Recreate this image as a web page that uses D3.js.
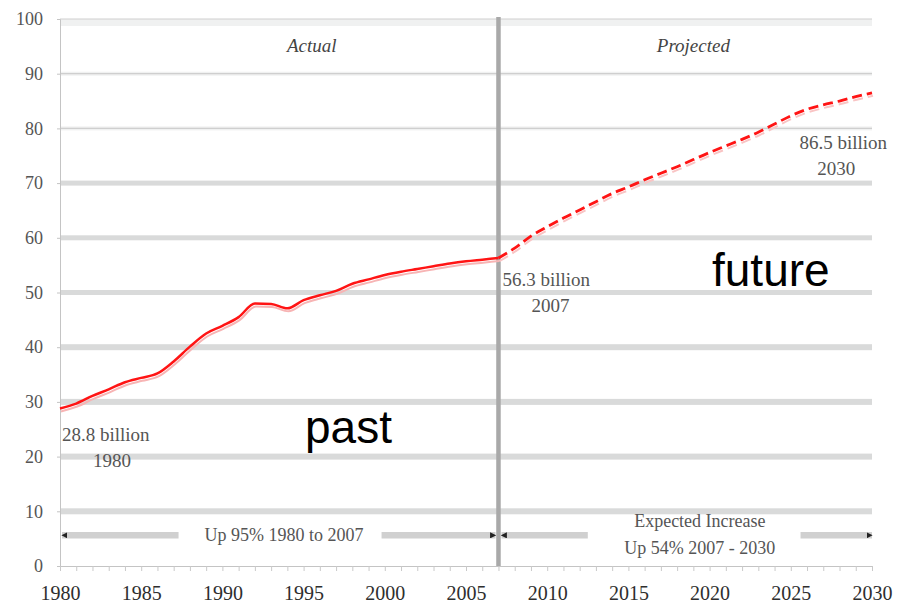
<!DOCTYPE html>
<html>
<head>
<meta charset="utf-8">
<script src="https://cdn.jsdelivr.net/npm/d3@7"></script>
<style>
  body { margin: 0; background: #fff; }
  svg { display: block; }
</style>
</head>
<body>
<div id="chart"></div>
<script>

// data (billions)
const actualYears = [1980, 1981, 1982, 1983, 1984, 1985, 1986, 1987, 1988, 1989,
                     1990, 1991, 1992, 1993, 1994, 1995, 1996, 1997, 1998, 1999,
                     2000, 2001, 2002, 2003, 2004, 2005, 2006, 2007];
const actualValues = [28.8, 29.7, 31.1, 32.3, 33.6, 34.4, 35.2, 37.4, 40.1, 42.5,
                      43.9, 45.5, 48.0, 47.9, 47.1, 48.6, 49.5, 50.3, 51.6, 52.4,
                      53.2, 53.8, 54.3, 54.8, 55.3, 55.7, 56.0, 56.3];

const projectedYears = [2007, 2008, 2009, 2010, 2011, 2012, 2013, 2014, 2015, 2016,
                        2017, 2018, 2019, 2020, 2021, 2022, 2023, 2024, 2025, 2026,
                        2027, 2028, 2029, 2030];
const projectedValues = [56.3, 58.1, 60.3, 62.0, 63.6, 65.1, 66.6, 68.1, 69.3, 70.6,
                         71.8, 73.0, 74.3, 75.6, 76.8, 78.0, 79.3, 80.8, 82.3, 83.5,
                         84.3, 85.0, 85.8, 86.5];

const yTicks = [0, 10, 20, 30, 40, 50, 60, 70, 80, 90, 100];
const xTickLabels = [1980, 1985, 1990, 1995, 2000, 2005, 2010, 2015, 2020, 2025, 2030];
const splitYear = 2007;

const startLabel = ["28.8 billion", "1980"];
const splitLabel = ["56.3 billion", "2007"];
const endLabel = ["86.5 billion", "2030"];
const pastIncrease = ["Up 95% 1980 to 2007"];
const futureIncrease = ["Expected Increase", "Up 54% 2007 - 2030"];

let dimensions = {
    width: 897,
    height: 610,
    margin: {
        top: 19,
        right: 25,
        bottom: 44,
        left: 60,
    },
};
dimensions.boundedWidth =
    dimensions.width - dimensions.margin.left - dimensions.margin.right;
dimensions.boundedHeight =
    dimensions.height - dimensions.margin.top - dimensions.margin.bottom;

const serif = "'Liberation Serif', 'Times New Roman', serif";

const wrapper = d3.select("#chart")
    .append("svg")
    .attr("width", dimensions.width)
    .attr("height", dimensions.height);

const bounds = wrapper.append("g")
    .attr("transform", `translate(${dimensions.margin.left},${dimensions.margin.top})`);

const x = d3.scaleLinear()
    .domain([1980, 2030])
    .range([0, dimensions.boundedWidth]);
const y = d3.scaleLinear()
    .domain([0, 100])
    .range([dimensions.boundedHeight, 0]);

// grid bands

const bandWidth = (v) => v === 0 ? 0 : v <= 40 ? 6 : v <= 70 ? 5 : v === 100 ? 7 : 4;
const bandColor = (v) => v <= 70 ? "#d9dada" : "#f0f1f1";

bounds.append("g")
    .selectAll("rect")
    .data(yTicks)
    .join("rect")
    .attr("x", 0)
    .attr("y", (d) => y(d) - (d === 100 ? 0 : bandWidth(d) / 2))
    .attr("width", dimensions.boundedWidth)
    .attr("height", (d) => bandWidth(d))
    .attr("fill", (d) => bandColor(d));

bounds.append("g")
    .selectAll("line")
    .data(yTicks.filter((d) => d >= 80))
    .join("line")
    .attr("x1", 0)
    .attr("x2", dimensions.boundedWidth)
    .attr("y1", (d) => y(d))
    .attr("y2", (d) => y(d))
    .attr("stroke", "#cfcfcf")
    .attr("stroke-width", 1.2);

// axes

const yAxisGenerator = d3.axisLeft(y)
    .tickValues(yTicks)
    .tickSize(3)
    .tickPadding(14)
    .tickFormat(d3.format("d"));
const yAxis = bounds.append("g").call(yAxisGenerator);
yAxis.select(".domain").attr("stroke", "#c4c4c4");
yAxis.selectAll(".tick line").attr("stroke", "#c4c4c4");
yAxis.selectAll("text")
    .attr("font-family", serif)
    .attr("font-size", 18)
    .attr("fill", "#555");

const xAxisGenerator = d3.axisBottom(x)
    .tickValues(d3.range(1980, 2031))
    .tickSize(5)
    .tickSizeOuter(0)
    .tickPadding(15)
    .tickFormat((d) => xTickLabels.includes(d) ? d : "");
const xAxis = bounds.append("g")
    .attr("transform", `translate(0,${dimensions.boundedHeight})`)
    .call(xAxisGenerator);
xAxis.select(".domain").attr("stroke", "#c4c4c4");
xAxis.selectAll(".tick line").attr("stroke", "#c9c9c9");
xAxis.selectAll("text")
    .attr("font-family", serif)
    .attr("font-size", 20)
    .attr("fill", "#2e2e2e");

// divider at 2007

bounds.append("line")
    .attr("x1", x(splitYear))
    .attr("x2", x(splitYear))
    .attr("y1", -2)
    .attr("y2", dimensions.boundedHeight)
    .attr("stroke", "#a9a9a9")
    .attr("stroke-width", 4.5);

// period labels

bounds.append("text")
    .attr("x", x(1995.5))
    .attr("y", 33)
    .attr("text-anchor", "middle")
    .attr("font-family", serif)
    .attr("font-style", "italic")
    .attr("font-size", 19)
    .attr("fill", "#444")
    .text("Actual");

bounds.append("text")
    .attr("x", x(2019))
    .attr("y", 33)
    .attr("text-anchor", "middle")
    .attr("font-family", serif)
    .attr("font-style", "italic")
    .attr("font-size", 19)
    .attr("fill", "#444")
    .text("Projected");

// lines

const actualData = actualYears.map((d, i) => ({ year: d, value: actualValues[i] }));
const projectedData = projectedYears.map((d, i) => ({ year: d, value: projectedValues[i] }));

const lineGenerator = d3.line()
    .x((d) => x(d.year))
    .y((d) => y(d.value))
    .curve(d3.curveMonotoneX);

// soft shadow under the line
bounds.append("path")
    .attr("d", lineGenerator(actualData))
    .attr("fill", "none")
    .attr("stroke", "#f7b4b4")
    .attr("stroke-width", 2)
    .attr("transform", "translate(1,3)");

bounds.append("path")
    .attr("d", lineGenerator(projectedData))
    .attr("fill", "none")
    .attr("stroke", "#f9c4c4")
    .attr("stroke-width", 2)
    .style("stroke-dasharray", "10,5")
    .attr("transform", "translate(1,3)");

bounds.append("path")
    .attr("d", lineGenerator(actualData))
    .attr("fill", "none")
    .attr("stroke", "#ff1414")
    .attr("stroke-width", 2.5);

bounds.append("path")
    .attr("d", lineGenerator(projectedData))
    .attr("fill", "none")
    .attr("stroke", "#ff1414")
    .attr("stroke-width", 2.8)
    .style("stroke-dasharray", "10,5");

// value labels

function twoLines(lines, xPos, yPos, anchor, secondX) {
    const t = bounds.append("text")
        .attr("font-family", serif)
        .attr("font-size", 19)
        .attr("fill", "#555");
    t.append("tspan")
        .attr("x", xPos)
        .attr("y", yPos)
        .attr("text-anchor", anchor)
        .text(lines[0]);
    t.append("tspan")
        .attr("x", secondX)
        .attr("y", yPos + 26)
        .attr("text-anchor", "middle")
        .text(lines[1]);
}

twoLines(startLabel, x(1980) + 2, y(28.8) + 33, "start", x(1983.2));
twoLines(splitLabel, x(splitYear) + 4, y(56.3) + 28, "start", x(2010.2));
twoLines(endLabel, dimensions.boundedWidth + 15, y(86.5) + 56, "end", x(2027.8));

// increase arrows

const arrowY = y(5.6);

const defs = wrapper.append("defs");
defs.append("marker")
    .attr("id", "arrowHead")
    .attr("viewBox", "0 0 10 10")
    .attr("refX", 9)
    .attr("refY", 5)
    .attr("markerUnits", "userSpaceOnUse")
    .attr("markerWidth", 6)
    .attr("markerHeight", 6)
    .attr("orient", "auto-start-reverse")
    .append("path")
    .attr("d", "M0,0 L10,5 L0,10 z")
    .attr("fill", "#222");

function bandSegment(x1, x2, startArrow, endArrow) {
    const seg = bounds.append("line")
        .attr("x1", x1)
        .attr("x2", x2)
        .attr("y1", arrowY)
        .attr("y2", arrowY)
        .attr("stroke", "#d0d0d0")
        .attr("stroke-width", 6.5);
    if (startArrow) seg.attr("marker-start", "url(#arrowHead)");
    if (endArrow) seg.attr("marker-end", "url(#arrowHead)");
}

bandSegment(x(1980) + 2, x(1987.3), true, false);
bandSegment(x(1999.8), x(splitYear) - 3, false, true);
bandSegment(x(splitYear) + 3, x(2012.5), true, false);
bandSegment(x(2025.6), x(2030), false, true);

bounds.append("text")
    .attr("x", x(1993.8))
    .attr("y", arrowY + 6)
    .attr("text-anchor", "middle")
    .attr("font-family", serif)
    .attr("font-size", 18)
    .attr("fill", "#555")
    .text(pastIncrease[0]);

const futureText = bounds.append("text")
    .attr("font-family", serif)
    .attr("font-size", 18)
    .attr("fill", "#555")
    .attr("text-anchor", "middle");
futureText.append("tspan")
    .attr("x", x(2019.4))
    .attr("y", arrowY - 8)
    .text(futureIncrease[0]);
futureText.append("tspan")
    .attr("x", x(2019.4))
    .attr("y", arrowY + 19)
    .text(futureIncrease[1]);

// overlay words

wrapper.append("text")
    .attr("x", 305)
    .attr("y", 443)
    .attr("font-family", "'Liberation Sans', Arial, sans-serif")
    .attr("font-size", 46)
    .attr("fill", "#000")
    .text("past");

wrapper.append("text")
    .attr("x", 712)
    .attr("y", 286)
    .attr("font-family", "'Liberation Sans', Arial, sans-serif")
    .attr("font-size", 46)
    .attr("fill", "#000")
    .text("future");

</script>
</body>
</html>
